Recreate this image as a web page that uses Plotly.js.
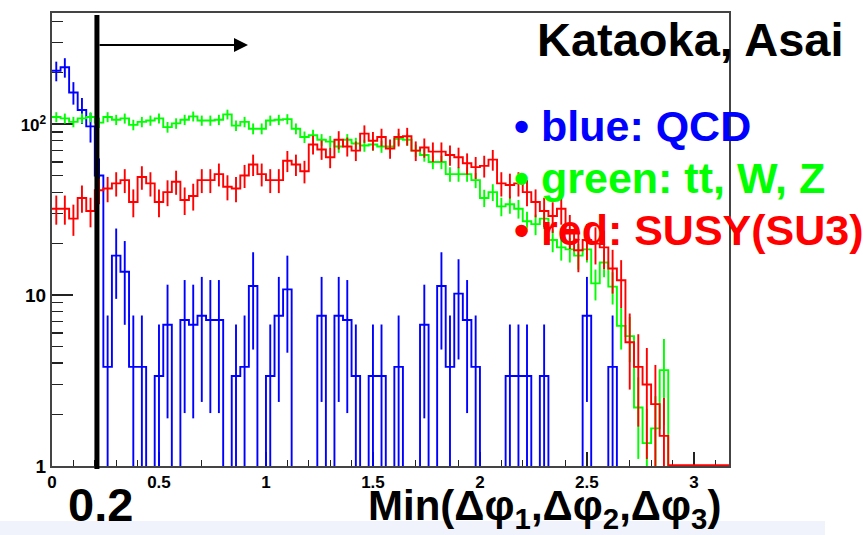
<!DOCTYPE html>
<html><head><meta charset="utf-8">
<script src="https://cdn.plot.ly/plotly-3.0.1.min.js"></script>
<style>html,body{margin:0;padding:0;background:#fff}#chart{width:863px;height:535px}</style>
</head><body><div id="chart"></div>
<script>
// histogram binning (80 bins of 0.04 in Min(dphi))
const BIN_WIDTH = 0.04;
const N_BINS = 80;
const CUT = 0.2;

// blue: QCD
const qcd = [205,215,153,121,97,50,3.8,17,13.7,3.8, 3.8,0,3.36,6.7,0,7.14,6.7,7.57,7.14,7.14,
             0,3.36,3.8,11.3,0,3.36,7.57,10.8,0,0, 0,7.57,0,7.57,7.14,3.36,0,3.36,3.36,0,
             3.8,0,0,6.7,0,11.3,3.8,10.2,7.14,3.8, 0,0,0,3.36,3.36,3.36,0,3.36,0,0,
             0,0,7.57,0,0,3.8,0,0,0,0, 0,0,0,0,0,0,0,0,0,0];
const qcdErr = [27,28,23,21,19,13,3.8,7.5,7,3.8, 3.8,0,3.36,4.8,0,5.1,4.8,5.2,5.1,5.1,
                0,3.36,3.8,6.5,0,3.36,5.2,6.2,0,0, 0,5.2,0,5.2,5.1,3.36,0,3.36,3.36,0,
                3.8,0,0,4.8,0,6.5,3.8,6.0,5.1,3.8, 0,0,0,3.36,3.36,3.36,0,3.36,0,0,
                0,0,5.2,0,0,3.8,0,0,0,0, 0,0,0,0,0,0,0,0,0,0];
// green: tt, W, Z
const ewk = [110,108,103,108,110,102,110,106,108,99, 103,105,108,96,101,106,111,105,105,106,
             114,98,103,94,94,105,106,107,94,84, 86,81,79,74,81,77,75,76,74,74,
             82,81,70,66,60,60,51,51,51,47, 37,40,33,34,32,27,26,28,21,19,
             18.5,17,18.5,11.7,15.5,11.2,6.6,5.75,2.2,1.36, 1.66,3.64,0,0,0,0,0,0,0,0];
const ewkErr = [7.4,7.3,7.2,7.3,7.4,7.1,7.4,7.3,7.3,7, 7.2,7.2,7.3,6.9,7.1,7.3,7.4,7.2,7.2,7.3,
                7.5,7,7.2,6.9,6.9,7.2,7.3,7.3,6.9,6.5, 6.6,6.4,6.3,6.1,6.4,6.2,6.1,6.2,6.1,6.1,
                6.4,6.4,5.9,5.7,5.5,5.5,5,5,5,4.8, 4.3,4.5,4.1,4.1,4,3.7,3.6,3.7,3.2,3.1,
                3,2.9,3,2.4,2.8,2.4,1.8,1.7,1.1,0.8, 0.9,1.9,0,0,0,0,0,0,0,0];
// red: SUSY (SU3)
const susy = [32,32,28,37,31,41,42,45,47,35, 49,45,35,40,46,36,38,47,47,51,
              43,42,50,58,51,47,47,61,58,53, 76,71,64,81,74,70,88,80,84,72,
              84,85,70,73,69,69,66,64,59,56, 57,62,45,44,45,40,35,31,29,32,
              24,18.3,21,20,19,14.3,12.2,5.3,3.8,3.0, 2.3,1.5,0,0,0,0,0,0,0,0];
const susyErr = [6.2,6.2,5.8,6.7,6.1,7,7.1,7.3,7.5,6.5, 7.7,7.3,6.5,6.9,7.4,6.6,6.8,7.5,7.5,7.8,
                 7.2,7.1,7.7,8.3,7.8,7.5,7.5,8.6,8.3,8, 9.5,9.2,8.8,9.9,9.4,9.2,10.3,9.8,10,9.3,
                 10,10.1,9.2,9.4,9.1,9.1,8.9,8.8,8.4,8.2, 8.3,8.6,7.3,7.3,7.3,6.9,6.5,6.1,5.9,6.2,
                 5.4,4.7,5,4.9,4.8,4.1,3.8,2.5,2.1,1.9, 1.6,1.0,0,0,0,0,0,0,0,0];

const xTickVals = [0,0.5,1,1.5,2,2.5,3];
const xTickText = ['0','0.5','1','1.5','2','2.5','3'];
const yTickVals = [1,10,100];
const yTickText = ['1','10','<span style="font-size:17px">10<sup>2</sup></span>'];
const yMinorVals = [2,3,4,5,6,7,8,9,20,30,40,50,60,70,80,90,200,300,400];

const FLOOR = 0.3;      // empty bins drawn below the log axis
const RED_FLOOR = 1.012; // the last drawn histogram sits on the frame bottom
const edges = Array.from({length: N_BINS + 1}, (_, i) => +(i * BIN_WIDTH).toFixed(4));
const centers = Array.from({length: N_BINS}, (_, i) => +((i + 0.5) * BIN_WIDTH).toFixed(4));

function stepTrace(vals, color, floor) {
  const y = vals.map(v => v > 0 ? v : floor);
  y.push(y[y.length - 1]);
  return {x: edges, y: y, type: 'scatter', mode: 'lines', line: {shape: 'hv', color: color, width: 1.9}, hoverinfo: 'skip'};
}
function errTrace(vals, errs, color) {
  return {x: centers, y: vals.map(v => v > 0 ? v : null), type: 'scatter', mode: 'markers',
          marker: {size: 1, color: 'rgba(0,0,0,0)'},
          error_y: {type: 'data', array: errs, visible: true, thickness: 1.9, width: 0, color: color},
          hoverinfo: 'skip'};
}

const BLUE = '#0000ff', GREEN = '#00ff00', RED = '#ff0000';
const data = [
  stepTrace(qcd, BLUE, FLOOR), errTrace(qcd, qcdErr, BLUE),
  stepTrace(ewk, GREEN, FLOOR), errTrace(ewk, ewkErr, GREEN),
  stepTrace(susy, RED, RED_FLOOR), errTrace(susy, susyErr, RED)
];

const FONT = 'Liberation Sans, Arial, Helvetica, sans-serif';
function px2x(px){ return (px - 52) / 677; }
function px2y(py){ return (466 - py) / 453; }

const layout = {
  width: 863, height: 535,
  margin: {l: 52, r: 134, t: 13, b: 69, pad: 0},
  paper_bgcolor: '#ffffff', plot_bgcolor: '#ffffff',
  showlegend: false,
  font: {family: FONT, color: '#000'},
  xaxis: {
    range: [0, 3.164], showgrid: false, zeroline: false,
    showline: true, mirror: true, linecolor: '#444', linewidth: 2, layer: 'below traces',
    tickmode: 'array', tickvals: xTickVals, ticktext: xTickText,
    ticks: 'inside', ticklen: 14, tickwidth: 1.5, tickcolor: '#222',
    tickfont: {family: FONT, size: 17, weight: 'bold', color: '#000'},
    minor: {ticks: 'inside', ticklen: 6, tickwidth: 1.2, tickcolor: '#222', tick0: 0, dtick: 0.1, showgrid: false}
  },
  yaxis: {
    type: 'log', range: [0, 2.65], showgrid: false, zeroline: false,
    showline: true, mirror: true, linecolor: '#444', linewidth: 2, layer: 'below traces',
    tickmode: 'array', tickvals: yTickVals, ticktext: yTickText,
    ticks: 'inside', ticklen: 21, tickwidth: 1.5, tickcolor: '#222',
    tickfont: {family: FONT, size: 19, weight: 'bold', color: '#000'},
    minor: {ticks: 'inside', ticklen: 11, tickwidth: 1.2, tickcolor: '#222', tickmode: 'array', tickvals: yMinorVals, showgrid: false}
  },
  shapes: [
    {type: 'rect', xref: 'paper', yref: 'paper', x0: px2x(0), x1: px2x(825), y0: px2y(535), y1: px2y(521),
     fillcolor: '#f0f3fb', line: {width: 0}, layer: 'below'},
    {type: 'line', xref: 'x', yref: 'paper', x0: CUT + 0.01, x1: CUT + 0.01, y0: px2y(469), y1: px2y(15),
     line: {color: '#000', width: 5}, layer: 'above'}
  ],
  annotations: [
    {x: 0.916, y: Math.log10(290), ax: CUT + 0.015, ay: Math.log10(290), xref: 'x', yref: 'y', axref: 'x', ayref: 'y',
     text: '', showarrow: true, arrowhead: 2, arrowsize: 1.4, arrowwidth: 2, arrowcolor: '#000', standoff: 0, startstandoff: 0},
    {xref: 'paper', yref: 'paper', x: px2x(535), y: px2y(40), xanchor: 'left', yanchor: 'middle', showarrow: false,
     text: 'Kataoka, Asai', font: {family: FONT, size: 47, weight: 'bold', color: '#000'}},
    {xref: 'paper', yref: 'paper', x: px2x(512), y: px2y(126), xanchor: 'left', yanchor: 'middle', showarrow: false,
     text: '• blue: QCD', font: {family: FONT, size: 43, weight: 'bold', color: BLUE}},
    {xref: 'paper', yref: 'paper', x: px2x(512), y: px2y(178), xanchor: 'left', yanchor: 'middle', showarrow: false,
     text: '• green: tt, W, Z', font: {family: FONT, size: 43, weight: 'bold', color: GREEN}},
    {xref: 'paper', yref: 'paper', x: px2x(512), y: px2y(230), xanchor: 'left', yanchor: 'middle', showarrow: false,
     text: '• red: SUSY(SU3)', font: {family: FONT, size: 43, weight: 'bold', color: RED}},
    {xref: 'paper', yref: 'paper', x: px2x(66), y: px2y(504), xanchor: 'left', yanchor: 'middle', showarrow: false,
     text: '0.2', font: {family: FONT, size: 47, weight: 'bold', color: '#000'}},
    {xref: 'paper', yref: 'paper', x: px2x(366), y: px2y(508), xanchor: 'left', yanchor: 'middle', showarrow: false,
     text: 'Min(Δφ<sub>1</sub>,Δφ<sub>2</sub>,Δφ<sub>3</sub>)', font: {family: FONT, size: 42, weight: 'bold', color: '#000'}}
  ]
};

Plotly.newPlot('chart', data, layout, {displayModeBar: false, staticPlot: true});
</script>
</body></html>
